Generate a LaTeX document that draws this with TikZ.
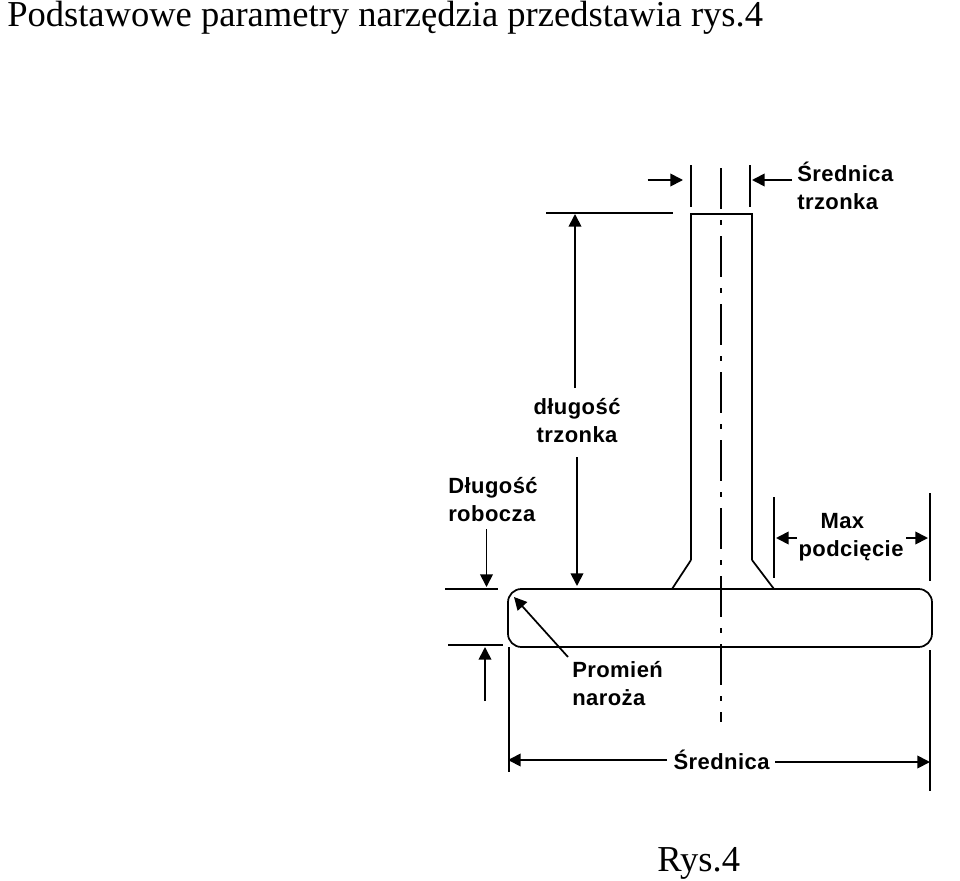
\documentclass[tikz,border=0pt]{standalone}
\usepackage{fontspec}
\setmainfont{Liberation Serif}
\newfontfamily\labelfont[LetterSpace=2]{Liberation Sans}
\usetikzlibrary{arrows.meta}
\tikzset{line/.style = {line width=1.3pt},
    dimarrow/.style = {line,-{Triangle[length=9.5pt,width=9.5pt]}},
    axis/.style = {line width=1pt,dash pattern=on 31pt off 8pt on 4pt off 8pt},
    label/.style = {font=\labelfont\bfseries\fontsize{16.5}{21}\selectfont,inner sep=0pt,align=left},
    doc/.style = {font=\fontsize{27.4}{32}\selectfont,inner sep=0pt,anchor=base west}}

\begin{document}
\begin{tikzpicture}[x=0.75pt,y=-0.75pt]
                    \useasboundingbox (0,0) rectangle (960,881);
                    \node [doc] (title) at (7,27) {Podstawowe parametry narzędzia przedstawia rys.4};
                    \node [doc] (caption) at (657,871) {Rys.4};

                    \node [label,anchor=west] (shankdia) at (797,185.5) {Średnica\\trzonka};
                    \node [label,align=center] (shanklen) at (577,421) {długość\\trzonka};
                    \node [label,anchor=west] (worklen) at (448,500) {Długość\\robocza};
                    \node [label,align=center] (undercut) at (851,537) {Max\hspace*{13pt}\\podcięcie};
                    \node [label,anchor=west] (radius) at (572,684) {Promień\\naroża};
                    \node [label] (dia) at (721.5,760) {Średnica};

                    \draw [line] (691,560) -- (691,214) -- (752,214) -- (752,560);
                    \draw [line] (691,560) -- (672,589);
                    \draw [line] (752,560) -- (774,589);
                    \draw [line,rounded corners=10pt] (508,589) rectangle (932,647);
                    \draw [axis] (721,168) -- (721,722);

                    \foreach \xa/\ya/\xb/\yb in {691/165/691/207, 750/165/750/207, 546/213/673/213,
                        445/589/498/589, 448/645/503/645, 774/497/774/578, 930/493/930/581,
                        509/647/509/772, 930/650/930/791} {
                        \draw [line] (\xa,\ya) -- (\xb,\yb);
                    }

                    \foreach \xa/\ya/\xb/\yb in {647.5/180/683/180, 792/180/752/180, 575/388/575/214,
                        577/457/577/586, 486.5/529/486.5/587, 485/701/485/647, 797/538/776/538,
                        906/538/928/538, 568/657/514/597, 667/760/508/760, 775/762/930/762} {
                        \draw [dimarrow] (\xa,\ya) -- (\xb,\yb);
                    }
                \end{tikzpicture}
\end{document}
